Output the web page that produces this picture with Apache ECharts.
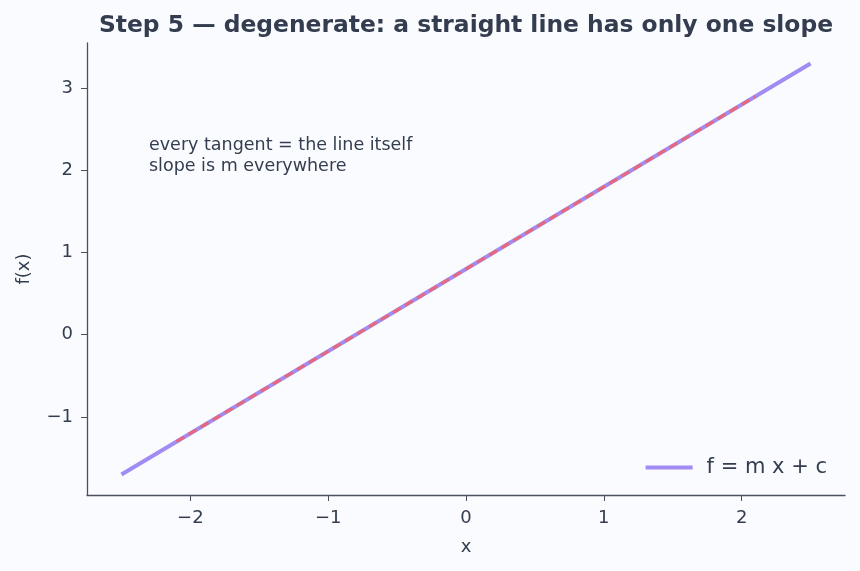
<!DOCTYPE html>
<html>
<head>
<meta charset="utf-8">
<script src="https://cdn.jsdelivr.net/npm/echarts@6/dist/echarts.min.js"></script>
<style>
  html, body { margin: 0; padding: 0; background: #fafbfe; }
  #chart { width: 860px; height: 571px; }
</style>
</head>
<body>
<div id="chart"></div>
<script>
// the line f = m x + c (m = 1, c = 0.8)
const lineX = [-2.5, 2.5];
const lineY = [-1.7, 3.3];
// dashed tangent overlay
const tangentX = [-2.1, 2.1];
const tangentY = [-1.3, 2.9];
const xTicks = [-2, -1, 0, 1, 2];
const yTicks = [-1, 0, 1, 2, 3];

const ink = '#333d4f';
const font = 'DejaVu Sans';
const minus = v => String(v).replace('-', '\u2212');

const chart = echarts.init(document.getElementById('chart'));
const option = {
  backgroundColor: '#fafbfe',
  animation: false,
  textStyle: { fontFamily: font, color: ink },
  title: {
    text: 'Step 5 \u2014 degenerate: a straight line has only one slope',
    left: 461,
    textAlign: 'center',
    top: 9,
    textStyle: { fontFamily: font, fontSize: 23.4, fontWeight: 'bold', color: ink },
  },
  grid: { left: 87, right: 15, top: 43, bottom: 76 },
  xAxis: {
    type: 'value',
    min: -2.75,
    max: 2.75,
    name: 'x',
    nameLocation: 'middle',
    nameGap: 43,
    nameTextStyle: { fontFamily: font, fontSize: 18, color: ink },
    splitLine: { show: false },
    axisLine: { show: true, onZero: false, lineStyle: { color: '#4a5060', width: 1.3 } },
    axisTick: { show: true, customValues: xTicks, length: 6, lineStyle: { color: '#4a5060' } },
    axisLabel: { customValues: xTicks, formatter: minus, fontFamily: font, fontSize: 18, color: ink, margin: 14 },
  },
  yAxis: {
    type: 'value',
    min: -1.95,
    max: 3.55,
    name: 'f(x)',
    nameLocation: 'middle',
    nameGap: 54,
    nameRotate: 90,
    nameTextStyle: { fontFamily: font, fontSize: 18, color: ink },
    splitLine: { show: false },
    axisLine: { show: true, onZero: false, lineStyle: { color: '#4a5060', width: 1.3 } },
    axisTick: { show: true, customValues: yTicks, length: 6, lineStyle: { color: '#4a5060' } },
    axisLabel: { customValues: yTicks, formatter: minus, fontFamily: font, fontSize: 18, color: ink, margin: 14 },
  },
  legend: {
    data: [{ name: 'f = m x + c', icon: 'rect' }],
    right: 28,
    top: 452,
    itemWidth: 47,
    itemHeight: 4,
    itemGap: 10,
    textStyle: { fontFamily: font, fontSize: 21, color: ink, padding: [0, 0, 0, 9] },
  },
  graphic: [{
    type: 'text',
    left: 149,
    top: 135,
    style: {
      text: 'every tangent = the line itself\nslope is m everywhere',
      font: '17.5px "DejaVu Sans"',
      fill: ink,
      lineHeight: 21,
    },
  }],
  series: [
    {
      name: 'f = m x + c',
      type: 'line',
      data: lineX.map((x, i) => [x, lineY[i]]),
      showSymbol: false,
      color: '#a08cf2',
      lineStyle: { width: 4, color: '#a08cf2' },
      z: 2,
    },
    {
      name: 'tangent',
      type: 'line',
      data: tangentX.map((x, i) => [x, tangentY[i]]),
      showSymbol: false,
      color: '#e8677a',
      lineStyle: { width: 3, type: [9, 5], color: '#e8677a' },
      z: 3,
    },
  ],
};
chart.setOption(option);
</script>
</body>
</html>
